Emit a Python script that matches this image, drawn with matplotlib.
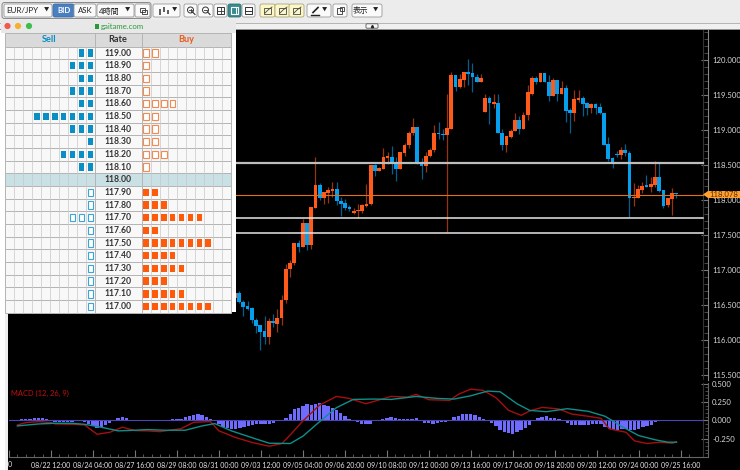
import numpy as np
import matplotlib
matplotlib.use("Agg")
import matplotlib.pyplot as plt
from matplotlib.patches import Rectangle, FancyBboxPatch, Circle, Polygon

plt.rcParams['font.family'] = ['Lato', 'Noto Sans CJK JP', 'DejaVu Sans']

# candles visible to the right of the order book, 4 hour bars
first_candle = 53
opens = [116.60, 116.67, 116.55, 116.48, 116.46, 116.29, 116.21, 116.13, 116.04, 116.27, 116.23, 116.31, 116.57, 117.01, 117.10, 117.38,
         117.33, 117.67, 117.36, 117.89, 118.21, 118.03, 118.10, 118.13, 118.16, 117.99, 117.96, 117.90, 117.81, 117.84, 117.85, 117.92,
         117.94, 118.50, 118.42, 118.45, 118.60, 118.62, 118.53, 118.45, 118.67, 118.78, 118.96, 119.05, 118.53, 118.49, 118.63, 118.71,
         118.96, 118.95, 118.93, 119.02, 119.78, 119.61, 119.72, 119.83, 119.81, 119.76, 119.69, 119.26, 119.46, 119.37, 119.39, 118.96,
         118.79, 118.90, 118.99, 119.14, 119.01, 119.21, 119.52, 119.74, 119.69, 119.81, 119.69, 119.49, 119.71, 119.52, 119.60, 119.28,
         119.24, 119.43, 119.46, 119.38, 119.31, 119.37, 119.33, 119.24, 118.80, 118.60, 118.66, 118.64, 118.71, 118.67, 118.03, 118.03,
         118.15, 118.20, 118.19, 118.21, 118.33, 118.14, 117.93, 118.02, 118.10]
closes = [116.67, 116.55, 116.47, 116.45, 116.28, 116.20, 116.12, 116.04, 116.27, 116.24, 116.31, 116.57, 117.02, 117.10, 117.38, 117.33,
          117.67, 117.36, 117.90, 118.21, 118.03, 118.11, 118.14, 118.16, 117.98, 117.95, 117.89, 117.87, 117.85, 117.86, 117.93, 117.95,
          118.50, 118.42, 118.46, 118.61, 118.63, 118.53, 118.45, 118.69, 118.79, 118.96, 119.05, 118.52, 118.49, 118.63, 118.71, 118.96,
          118.94, 118.93, 119.03, 119.78, 119.61, 119.73, 119.83, 119.80, 119.76, 119.69, 119.74, 119.46, 119.38, 119.40, 118.96, 118.79,
          118.91, 118.99, 119.14, 119.01, 119.21, 119.54, 119.74, 119.69, 119.81, 119.69, 119.49, 119.71, 119.52, 119.60, 119.27, 119.24,
          119.44, 119.46, 119.37, 119.31, 119.37, 119.32, 119.24, 118.79, 118.59, 118.53, 118.64, 118.71, 118.67, 118.03, 118.04, 118.16,
          118.20, 118.19, 118.23, 118.33, 118.13, 117.92, 118.03, 118.10, 118.08]
highs = [116.67, 116.70, 116.57, 116.56, 116.47, 116.32, 116.21, 116.34, 116.31, 116.37, 116.44, 116.64, 117.08, 117.14, 117.39, 117.43,
         117.73, 117.67, 117.90, 118.61, 118.24, 118.12, 118.18, 118.26, 118.26, 118.05, 118.01, 117.93, 117.88, 117.94, 117.95, 118.23,
         118.50, 118.51, 118.47, 118.74, 118.69, 118.77, 118.62, 118.69, 118.81, 118.99, 119.17, 119.05, 118.60, 118.69, 118.74, 119.07,
         119.11, 119.02, 119.52, 119.83, 119.78, 119.80, 119.83, 120.01, 119.96, 119.80, 119.80, 119.51, 119.49, 119.51, 119.51, 119.02,
         118.91, 119.01, 119.24, 119.20, 119.26, 119.64, 119.77, 119.77, 119.81, 119.81, 119.79, 119.75, 119.71, 119.70, 119.64, 119.31,
         119.57, 119.57, 119.49, 119.40, 119.38, 119.38, 119.39, 119.24, 118.90, 118.61, 118.70, 118.76, 118.80, 118.70, 118.24, 118.21,
         118.26, 118.36, 118.33, 118.56, 118.53, 118.15, 118.03, 118.17, 118.10]
lows = [116.60, 116.53, 116.34, 116.43, 116.24, 116.10, 115.86, 115.95, 115.94, 116.19, 116.12, 116.21, 116.53, 116.90, 117.07, 117.26,
        117.33, 117.28, 117.30, 117.89, 118.00, 117.94, 117.96, 118.05, 117.93, 117.77, 117.86, 117.84, 117.80, 117.74, 117.81, 117.90,
        117.93, 118.34, 118.41, 118.44, 118.52, 118.37, 118.27, 118.45, 118.63, 118.75, 118.93, 118.51, 118.30, 118.40, 118.62, 118.69,
        118.87, 118.86, 117.55, 119.01, 119.56, 119.60, 119.62, 119.64, 119.54, 119.69, 119.69, 119.26, 119.09, 119.32, 118.96, 118.71,
        118.69, 118.88, 118.99, 118.94, 119.01, 119.14, 119.50, 119.66, 119.69, 119.69, 119.42, 119.48, 119.41, 119.51, 119.12, 118.96,
        119.13, 119.40, 119.20, 119.21, 119.24, 119.23, 119.23, 118.79, 118.56, 118.46, 118.61, 118.58, 118.63, 117.76, 117.92, 118.03,
        118.10, 118.18, 118.11, 118.19, 118.12, 117.89, 117.90, 117.79, 118.03]

level_lines = [118.53, 117.75, 117.53]
current_price = 118.078
price_ticks = [115.5, 116.0, 116.5, 117.0, 117.5, 118.0, 118.5, 119.0, 119.5, 120.0]

macd_hist = [.005, .014, .023, .023, .027, .027, .032, .023, .005, -.023, -.023, -.018, -.018, -.018, -.014, -.009,
             -.023, -.05, -.073, -.105, -.091, -.068, -.036, -.009, .027, .041, .027, .009, .005, .005, -.005, -.009,
             -.014, -.014, -.014, -.014, -.005, .014, .014, .018, .041, .059, .077, .082, .068, .041, .023, .005,
             -.055, -.091, -.109, -.123, -.123, -.109, -.091, -.077, -.059, -.055, -.055, -.055, -.055, -.032, -.014, 0,
             .032, .091, .15, .173, .2, .218, .209, .218, .236, .209, .191, .164, .145, .1, .064, .018,
             -.005, -.027, -.045, -.055, -.055, -.014, 0, .018, .036, .045, .032, .018, .018, .018, .018, .027,
             0, -.032, -.041, -.045, -.036, -.027, -.023, -.014, .041, .064, .082, .091, .086, .068, .045, .018,
             -.014, -.041, -.077, -.127, -.164, -.177, -.182, -.164, -.132, -.105, -.059, -.005, .036, .05, .055, .036,
             .032, .014, -.005, -.036, -.059, -.059, -.059, -.059, -.059, -.055, -.055, -.055, -.091, -.118, -.136, -.127,
             -.114, -.123, -.132, -.132, -.114, -.095, -.077, -.059, -.027, -.014, -.009, -.005, 0, .005]

macd_idx = [0, 2, 5, 8, 9, 13, 16, 19, 22, 25, 28, 31, 34, 39, 42, 46, 48, 52, 56, 60, 63, 65, 68, 72, 76, 79, 83, 85,
            89, 93, 95, 98, 103, 105, 108, 111, 114, 117, 120, 122, 125, 129, 132, 136, 139, 141, 145, 147, 150, 153, 156, 157]
macd_line = [-.064, -.032, -.018, -.032, -.05, -.055, -.064, -.191, -.164, -.095, -.141, -.145, -.155, -.114, -.027, -.018,
             -.145, -.236, -.305, -.355, -.318, -.2, -.009, .209, .327, .3, .227, .26,
             .327, .318, .355, .282, .273, .355, .427, .409, .309, .136, .068, .127, .177, .155, .086, .055, .027, -.118,
             -.164, -.282, -.318, -.3, -.314, -.295]
signal_idx = [0, 5, 9, 13, 16, 20, 24, 28, 31, 35, 40, 44, 47, 51, 57, 60, 65, 68, 72, 76, 80, 85,
              89, 95, 100, 104, 108, 112, 115, 119, 122, 126, 131, 136, 140, 144, 148, 152, 155, 157]
signal_line = [-.077, -.05, -.041, -.041, -.055, -.095, -.145, -.136, -.127, -.136, -.136, -.077, -.045, -.145, -.259, -.314,
               -.318, -.218, -.018, .173, .286, .291, .286, .327, .3, .291, .336, .4, .391, .227, .136, .118, .159, .123,
               .055, -.086, -.209, -.268, -.3, -.3]
macd_ticks = [-0.25, 0.0, 0.25, 0.5]

date_labels = ["", "08/22 12:00", "08/24 04:00", "08/27 16:00", "08/29 08:00", "08/31 00:00", "09/03 12:00",
               "09/05 04:00", "09/06 20:00", "09/10 08:00", "09/12 00:00", "09/13 16:00", "09/17 04:00", "09/18 20:00",
               "09/20 12:00", "09/24 00:00", "09/25 16:00"]
date_idx = [-2, 8, 18, 28, 38, 48, 58, 68, 78, 88, 98, 108, 118, 128, 138, 148, 158]

# order book, top row first
rates = ["119.00", "118.90", "118.80", "118.70", "118.60", "118.50", "118.40", "118.30", "118.20", "118.10", "118.00",
         "117.90", "117.80", "117.70", "117.60", "117.50", "117.40", "117.30", "117.20", "117.10", "117.00"]
sell_counts = [2, 3, 2, 3, 2, 7, 3, 1, 4, 2, 0, 1, 1, 3, 1, 1, 1, 1, 1, 1, 1]
buy_counts = [2, 1, 1, 1, 4, 2, 2, 2, 3, 1, 0, 2, 3, 7, 2, 8, 4, 5, 3, 5, 8]

W, H = 740, 470
UP = "#ff5a1a"
DOWN = "#059fee"
BLUE = "#0a8ec6"


def box(left, top, right, bottom):
    return [left / W, 1 - bottom / H, (right - left) / W, (bottom - top) / H]


def idx_limits(left, right):
    step = 4.243
    return (left - 10) / step, (right - 10) / step


fig = plt.figure(figsize=(W / 100, H / 100), dpi=100, facecolor="black")

# price panel
ax = fig.add_axes(box(9, 30, 708, 380), facecolor="black")
x = np.arange(first_candle, first_candle + len(opens))
o, c, h, l = map(np.array, (opens, closes, highs, lows))
cols = [UP if b >= a else DOWN for a, b in zip(o, c)]
ax.vlines(x, l, h, colors=cols, linewidth=0.9, alpha=0.6, zorder=2)
ax.bar(x, np.maximum(np.abs(c - o), 0.02), bottom=np.minimum(o, c), width=0.88, color=cols, zorder=3)
right_end = 694 / 699
ax.axhline(level_lines[0], xmax=right_end, color="#bdbdbd", linewidth=1.6, zorder=4)
for lev in level_lines[1:]:
    ax.axhline(lev, xmax=right_end, color="#e6e6e6", linewidth=1.1, zorder=4)
ax.axhline(current_price, xmax=right_end, color="#e0701a", linewidth=0.8, zorder=4)
ax.axvline(idx_limits(703, 708)[0], color="#333333", linewidth=0.8)
ax.set_xlim(*idx_limits(9, 708))
ax.set_ylim(120 - 320 / 70, 120 + 30 / 70)
ax.yaxis.tick_right()
ax.set_yticks(price_ticks)
ax.set_yticklabels(["%.3f" % p for p in price_ticks])
ax.set_yticks(np.arange(115.5, 120.45, 0.1), minor=True)
ax.tick_params(axis="y", which="major", direction="in", length=5, color="#777777", labelcolor="#d8d8d8", labelsize=5.6, pad=3)
ax.tick_params(axis="y", which="minor", direction="in", length=3, color="#555555")
ax.set_xticks([])
for name, sp in ax.spines.items():
    sp.set_visible(name == "right")
    sp.set_color("#888888")
    sp.set_linewidth(0.8)

# macd panel
mx = fig.add_axes(box(9, 383, 708, 457), facecolor="black")
mx.bar(np.arange(len(macd_hist)), macd_hist, width=0.8, color="#6f6bff", zorder=2)
mx.axhline(0, xmax=right_end, color="#4a46b8", linewidth=0.8, zorder=3)
mx.plot(macd_idx, macd_line, color="#a50f0f", linewidth=1.0, zorder=4)
mx.plot(signal_idx, signal_line, color="#0d8f8a", linewidth=1.0, zorder=5)
mx.axvline(idx_limits(703, 708)[0], color="#333333", linewidth=0.8)
mx.set_xlim(*idx_limits(9, 708))
mx.set_ylim(-36.7 / 73, 37.3 / 73)
mx.yaxis.tick_right()
mx.set_yticks(macd_ticks)
mx.set_yticklabels(["%.3f" % v for v in macd_ticks])
mx.set_yticks(np.arange(-0.5, 0.51, 0.05), minor=True)
mx.tick_params(axis="y", which="major", direction="in", length=5, color="#777777", labelcolor="#d8d8d8", labelsize=5.6, pad=3)
mx.tick_params(axis="y", which="minor", direction="in", length=2, color="#555555")
mx.set_xticks(date_idx)
mx.set_xticklabels(date_labels)
mx.set_xticks(np.arange(-2, 162, 2), minor=True)
mx.tick_params(axis="x", which="major", direction="in", length=5, color="#777777", labelcolor="#e6e6e6", labelsize=5.0, pad=3.5)
mx.tick_params(axis="x", which="minor", direction="in", length=2, color="#666666")
mx.text(0.003, 0.865, "MACD (12, 26, 9)", transform=mx.transAxes, color="#c01010", fontsize=5.4, va="center")
for name, sp in mx.spines.items():
    sp.set_visible(name in ("right", "bottom"))
    sp.set_color("#666666")
    sp.set_linewidth(0.8)

# window chrome in pixel coordinates
ui = fig.add_axes([0, 0, 1, 1], facecolor="none")
ui.set_xlim(0, W)
ui.set_ylim(H, 0)
ui.axis("off")


def rect(left, top, right, bottom, fc, ec="none", lw=0.6, z=5):
    ui.add_patch(Rectangle((left, top), right - left, bottom - top, facecolor=fc, edgecolor=ec, linewidth=lw, zorder=z))


def button(left, right, fc="#fafafa", ec="#9a9a9a", top=4, bottom=17):
    ui.add_patch(FancyBboxPatch((left, top), right - left, bottom - top, boxstyle="round,pad=0,rounding_size=2",
                                facecolor=fc, edgecolor=ec, linewidth=0.6, zorder=6))


def label(px, py, s, size=6.5, color="#222222", weight="normal", ha="center", z=8):
    ui.text(px, py, s, fontsize=size, color=color, fontweight=weight, ha=ha, va="center", zorder=z)


# toolbar
rect(0, 0, W, 23, "#ececec")
rect(0, 23, W, 29.5, "#f0f0f0", ec="none")
ui.plot([0, W], [22.7, 22.7], color="#b5b5b5", lw=0.7, zorder=6)
ui.plot([0, W], [29.3, 29.3], color="#8f8f8f", lw=0.7, zorder=6)
ui.add_patch(FancyBboxPatch((2, 2.5), 149, 16, boxstyle="round,pad=0,rounding_size=2.5", facecolor="#e6e6e6",
                            edgecolor="#8a8a8a", linewidth=0.7, zorder=5.5))
button(4, 52)
label(6, 10.5, "EUR/JPY", 5.8, ha="left")
label(46, 10.5, "▼", 3.8)
button(53, 74, fc="#4a7fc1", ec="#3f6ea8")
label(63.5, 10.5, "BID", 5.6, color="white", weight="bold")
button(74, 96)
label(85, 10.5, "ASK", 5.6)
button(97, 134)
label(99, 10.5, "4時間", 5.8, ha="left")
label(127, 10.5, "▼", 3.8)
button(135, 150)
rect(139.5, 7.5, 145, 12, "none", ec="#333333", lw=0.6, z=8)
rect(142, 9.5, 147, 14, "none", ec="#333333", lw=0.6, z=8)
button(153, 180)
ui.vlines([160, 164, 168], [9, 7, 10], [15, 12, 14], color="#333333", lw=1.1, zorder=8)
label(174, 10.5, "▼", 3.8)
for left, right in [(184, 197), (198, 213), (214, 227), (242, 255)]:
    button(left, right)
button(228, 241, fc="#3a8a8f", ec="#2e7074")
for cx in (190.5, 205.5):
    ui.add_patch(Circle((cx, 10), 3, facecolor="none", edgecolor="#333333", lw=0.7, zorder=8))
    ui.plot([cx + 2, cx + 4.5], [12, 14.5], color="#333333", lw=0.8, zorder=8)
    ui.plot([cx - 1.5, cx + 1.5], [10, 10], color="#333333", lw=0.6, zorder=8)
ui.plot([190.5, 190.5], [8.5, 11.5], color="#333333", lw=0.6, zorder=8)
rect(217, 7, 224, 14, "none", ec="#333333", lw=0.7, z=8)
ui.plot([217, 224], [10.5, 10.5], color="#333333", lw=0.6, zorder=8)
ui.plot([220.5, 220.5], [7, 14], color="#333333", lw=0.6, zorder=8)
rect(231, 7, 238, 14, "none", ec="white", lw=0.8, z=8)
ui.plot([235.5, 235.5], [7, 14], color="white", lw=0.7, zorder=8)
rect(245, 7, 252, 14, "none", ec="#333333", lw=0.7, z=8)
ui.plot([245, 252], [11, 11], color="#333333", lw=0.7, zorder=8)
for left in (260, 275, 289):
    button(left, left + 15, fc="#fbf7c9", ec="#a8a478")
    rect(left + 4, 7.5, left + 11, 14, "none", ec="#444444", lw=0.6, z=8)
    ui.plot([left + 5, left + 8, left + 12], [13, 10, 7], color="#444444", lw=0.6, zorder=8)
button(307, 331)
ui.plot([311, 319], [14.5, 14.5], color="#222222", lw=1.0, zorder=8)
ui.plot([313, 318], [12.5, 7.5], color="#222222", lw=1.2, zorder=8)
label(324, 10.5, "▼", 3.8)
button(333, 347)
rect(337, 8, 342, 14, "none", ec="#333333", lw=0.6, z=8)
rect(339.5, 6.5, 344, 11, "none", ec="#333333", lw=0.6, z=8)
button(352, 382)
label(361, 10.5, "表示", 5.6)
label(375, 10.5, "▼", 3.8)
ui.add_patch(FancyBboxPatch((366, 23.8), 12, 4.4, boxstyle="round,pad=0,rounding_size=1", facecolor="#f8f8f8",
                            edgecolor="#555555", linewidth=0.6, zorder=6))
ui.plot([372], [26], marker="^", ms=1.6, color="#222222", zorder=7)

# left strip and current price flag
rect(0, 29, 8, H, "#efefef")
rect(0, 29, 5, H, "white", z=5.1)
label(10, 464.5, "0", 5.0, color="#e6e6e6")
ui.add_patch(Polygon([(703, 194.5), (708, 191), (740, 191), (740, 198), (708, 198)], closed=True,
                     facecolor="#ffa030", edgecolor="none", zorder=6))
label(724, 194.3, "118.078", 5.6, color="#5a2c00")

# order book window
rect(0.5, 20, 236, 312, "white", ec="none", z=9)
rect(0.5, 20, 236, 32.5, "#e8e8e8", z=9.1)
for cx, col in [(7.5, "#ee5a52"), (18, "#f5b030"), (29, "#3cc048")]:
    ui.add_patch(Circle((cx, 26), 3.1, facecolor=col, edgecolor="none", zorder=10))
rect(95, 23.5, 99, 28.5, "#2a9a3a", z=10)
label(101, 26, "gaitame.com", 5.6, color="#2a9a3a", ha="left", z=10)

tbl_left, tbl_right = 5.3, 230.7
rate_left, rate_right = 94.7, 141.7
head_top, head_bottom = 33.3, 46.7
row_h = 12.67
sell_w = (rate_left - tbl_left) / 10
buy_w = (tbl_right - rate_right) / 10
GRID = "#b4b4b4"

rect(tbl_left, head_top, tbl_right, head_bottom, "#dadada", ec=GRID, lw=0.7, z=10)
ui.plot([rate_left, rate_left], [head_top, head_bottom], color=GRID, lw=0.7, zorder=11)
ui.plot([rate_right, rate_right], [head_top, head_bottom], color=GRID, lw=0.7, zorder=11)
label(49.5, 40, "Sell", 6.6, color=BLUE, weight="bold", z=12)
label(118, 40, "Rate", 6.6, color="#333333", weight="bold", z=12)
label(186, 40, "Buy", 6.6, color="#ee5a1e", weight="bold", z=12)

for i, rate in enumerate(rates):
    top = head_bottom + i * row_h
    bg = "#c9e0e5" if rate == "118.00" else "#f8f8f8"
    rect(tbl_left, top, tbl_right, top + row_h, bg, ec=GRID, lw=0.7, z=10)
    label(118, top + row_h / 2, rate, 6.2, color="#333333", weight="bold", z=12)
    below = i > rates.index("118.00")
    for k in range(1, 10):
        ui.plot([tbl_left + k * sell_w] * 2, [top, top + row_h], color="#c8c8c8", lw=0.5, zorder=11)
        ui.plot([rate_right + k * buy_w] * 2, [top, top + row_h], color="#c8c8c8", lw=0.5, zorder=11)
    ui.plot([rate_left] * 2, [top, top + row_h], color=GRID, lw=0.7, zorder=11)
    ui.plot([rate_right] * 2, [top, top + row_h], color=GRID, lw=0.7, zorder=11)
    for k in range(sell_counts[i]):
        cell_r = rate_left - k * sell_w - 1.4
        if below:
            rect(cell_r - 5.6, top + 2.6, cell_r, top + row_h - 2.6, "white", ec="#3aa6d6", lw=0.8, z=12)
        else:
            rect(cell_r - 5.6, top + 2.6, cell_r, top + row_h - 2.6, "#0a8ec6", z=12)
    for k in range(buy_counts[i]):
        cell_l = rate_right + k * buy_w + 1.4
        if below:
            rect(cell_l, top + 2.6, cell_l + 5.6, top + row_h - 2.6, "#ff5a0a", z=12)
        else:
            rect(cell_l, top + 2.6, cell_l + 5.6, top + row_h - 2.6, "white", ec="#f58a50", lw=0.8, z=12)

fig.savefig("out.png", dpi=100, facecolor="black")
